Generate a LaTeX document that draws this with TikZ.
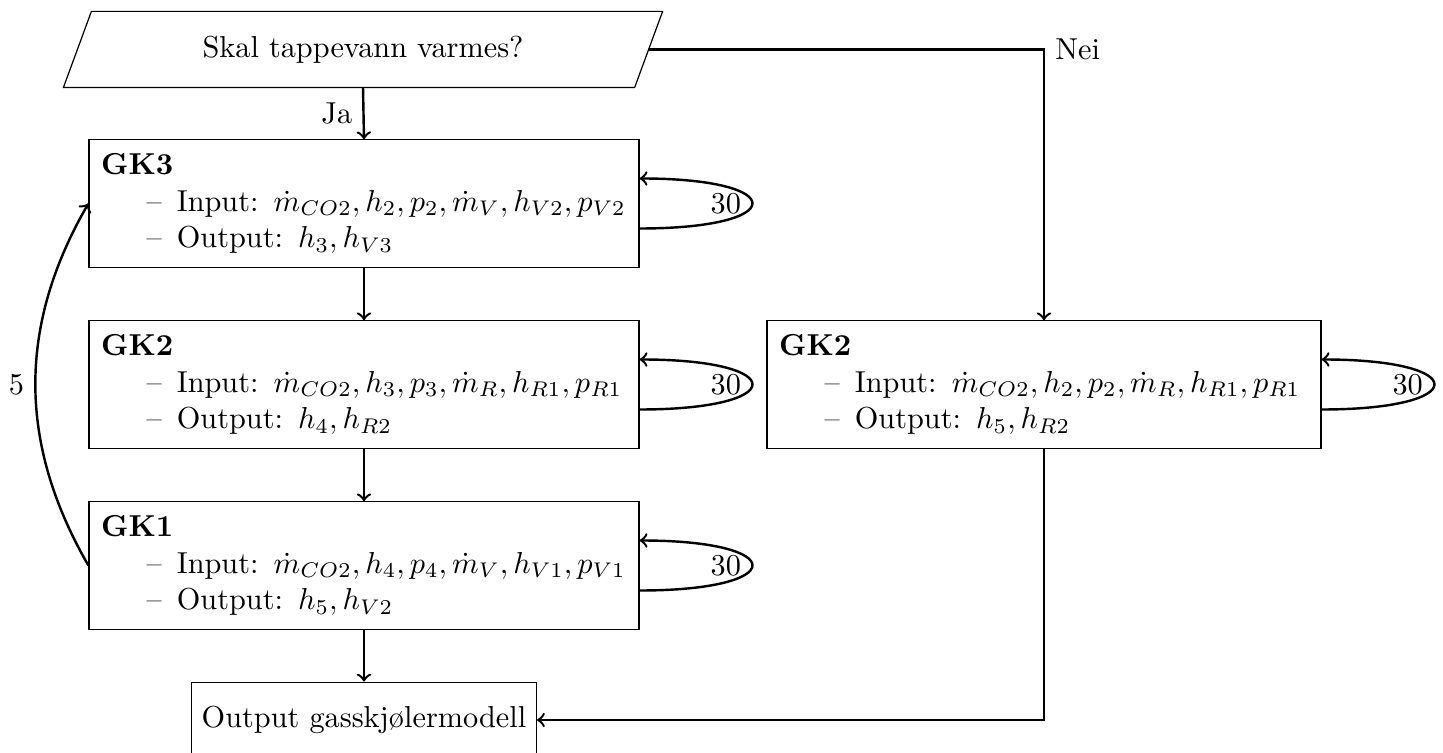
\documentclass[tikz,border=0pt]{standalone}
\usetikzlibrary{calc}
\begin{document}
\begin{tikzpicture}[x=0.33pt,y=-0.33pt,
  box/.style={draw, align=left, inner xsep=4pt, minimum height=42pt},
  conn/.style={thick,->},
  selfloop/.style={thick,->,out=0,in=0,looseness=7.7}]
\useasboundingbox (0,0) rectangle (1443,753);
\newcommand{\itemline}[1]{\hspace*{15pt}\textendash\hspace{5pt}#1}

\node[minimum width=188.1pt, minimum height=24.75pt, inner sep=0pt] (q) at (363,49.5) {Skal tappevann varmes?};
\draw ($(q.north west)+(14,0)$) -- ($(q.north east)+(14,0)$) -- ($(q.south east)+(-14,0)$) -- ($(q.south west)+(-14,0)$) -- cycle;

\node[box, text width=173.5pt] (gk3) at (364,203.5) {\textbf{GK3}\\
\itemline{Input: $\dot{m}_{CO2}, h_2, p_2, \dot{m}_V, h_{V2}, p_{V2}$}\\
\itemline{Output: $h_3, h_{V3}$}};

\node[box, text width=173.5pt] (gk2) at (364,384.5) {\textbf{GK2}\\
\itemline{Input: $\dot{m}_{CO2}, h_3, p_3, \dot{m}_R, h_{R1}, p_{R1}$}\\
\itemline{Output: $h_4, h_{R2}$}};

\node[box, text width=173.5pt] (gk1) at (364,565.5) {\textbf{GK1}\\
\itemline{Input: $\dot{m}_{CO2}, h_4, p_4, \dot{m}_V, h_{V1}, p_{V1}$}\\
\itemline{Output: $h_5, h_{V2}$}};

\node[box, text width=174.8pt] (gk2r) at (1044,384.5) {\textbf{GK2}\\
\itemline{Input: $\dot{m}_{CO2}, h_2, p_2, \dot{m}_R, h_{R1}, p_{R1}$}\\
\itemline{Output: $h_5, h_{R2}$}};

\node[draw, minimum height=25pt] (out) at (364,720) {Output gasskjølermodell};

\draw[conn] (q.south) -- node[left] {Ja} (gk3.north);
\draw[conn] (q.east) -| node[pos=0.5, right] {Nei} (gk2r.north);
\draw[conn] (gk3) -- (gk2);
\draw[conn] (gk2) -- (gk1);
\draw[conn] (gk1) -- (out);
\draw[conn] (gk2r.south) |- (out.east);
\draw[conn] (gk1.west) to[bend left=30] node[left] {5} (gk3.west);

\foreach \b in {gk3,gk2,gk1,gk2r} {
  \draw[selfloop] ($(\b.east)+(0,25)$) to node[left] {30} ($(\b.east)+(0,-25)$);
}
\end{tikzpicture}
\end{document}
